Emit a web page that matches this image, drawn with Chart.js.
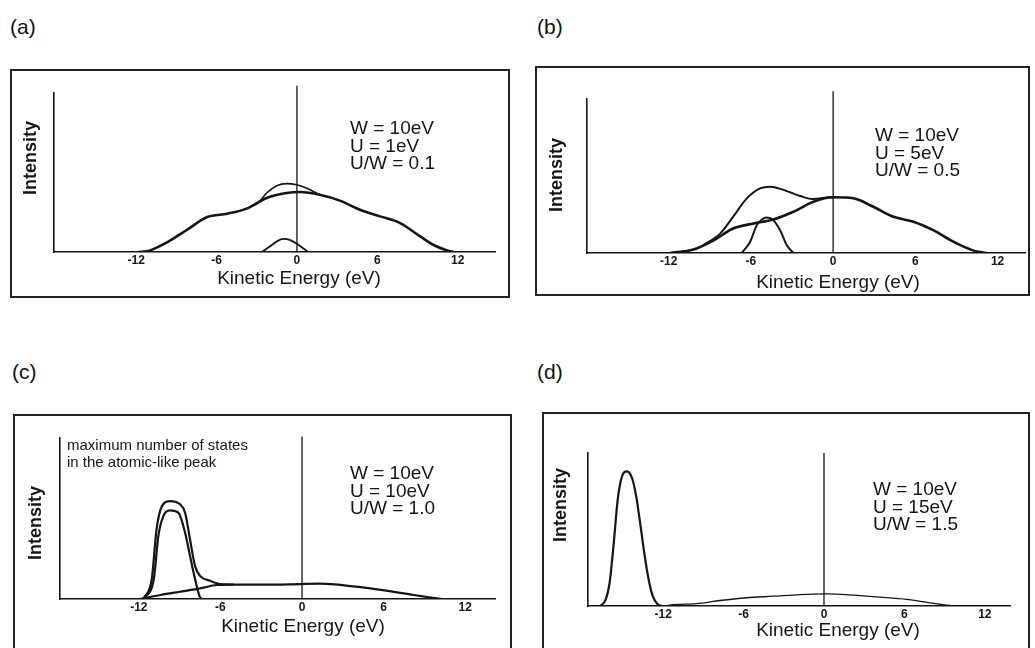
<!DOCTYPE html>
<html>
<head>
<meta charset="utf-8">
<script src="https://cdn.jsdelivr.net/npm/chart.js@4"></script>
<style>
  body { margin: 0; background: #fff; width: 1035px; height: 648px; overflow: hidden; position: relative;
         font-family: "Liberation Sans", Arial, sans-serif; }
  .lbl { position: absolute; font-size: 21px; line-height: 1; color: #111; }
  .box { position: absolute; border: 2px solid #222; box-sizing: border-box; pointer-events: none; }
  canvas { position: absolute; }
</style>
</head>
<body>
<script>
// ---- data (x in eV, y in arbitrary intensity, axis top = 10) ----
const tickValues = [-12, -6, 0, 6, 12];
const xTitle = "Kinetic Energy (eV)";
const yTitle = "Intensity";

// (a) U/W = 0.1
const aParams = ["W = 10eV", "U = 1eV", "U/W = 0.1"];
const aBandX = [-11.8, -11.2, -9.7, -8.2, -6.7, -5.2, -3.75, -2.26, -0.77, 0.22, 1.7, 3.2, 4.7, 6.2, 7.7, 9.2, 10.2, 11.2, 11.7];
const aBandY = [0, 0.04, 0.61, 1.4, 2.2, 2.41, 2.73, 3.4, 3.71, 3.77, 3.6, 3.23, 2.66, 2.24, 1.82, 0.98, 0.44, 0.1, 0];
const aTotalX = [-3.4, -2.9, -2.26, -1.5, -0.77, -0.02, 0.7, 1.7];
const aTotalY = [2.88, 3.08, 3.71, 4.17, 4.3, 4.23, 4.02, 3.6];
const aPeakX = [-2.6, -2.0, -1.5, -1.0, -0.5, 0.1, 0.84];
const aPeakY = [0, 0.36, 0.67, 0.82, 0.75, 0.46, 0];

// (b) U/W = 0.5
const bParams = ["W = 10eV", "U = 5eV", "U/W = 0.5"];
const bBandX = [-11.9, -10.2, -8.7, -7.3, -5.8, -4.36, -2.9, -1.44, 0, 1.48, 2.94, 4.4, 5.86, 7.3, 8.8, 10.2, 11.2];
const bBandY = [0, 0.22, 0.83, 1.59, 1.92, 2.18, 2.68, 3.33, 3.62, 3.55, 3.0, 2.35, 2.03, 1.48, 0.72, 0.17, 0];
const bTotalX = [-9.5, -8.25, -7.3, -6.3, -5.33, -4.6, -3.63, -2.4, -1.44, -0.46, 0.3];
const bTotalY = [0.5, 1.26, 2.35, 3.55, 4.2, 4.31, 4.1, 3.7, 3.5, 3.6, 3.62];
const bPeakX = [-6.67, -6.06, -5.57, -5.2, -4.84, -4.36, -3.87, -3.38, -2.9];
const bPeakY = [0, 0.72, 1.81, 2.18, 2.31, 2.13, 1.48, 0.5, 0];

// (c) U/W = 1.0
const cParams = ["W = 10eV", "U = 10eV", "U/W = 1.0"];
const cNote = ["maximum number of states", "in the atomic-like peak"];
const cBandX = [-11.9, -10.4, -9.0, -7.5, -6.27, -5.05, -2.6, -0.15, 1.32, 3.77, 6.2, 8.2, 9.9, 10.3];
const cBandY = [0, 0.25, 0.45, 0.66, 0.87, 0.89, 0.89, 0.93, 0.95, 0.78, 0.52, 0.25, 0.04, 0];
const cTotalX = [-11.67, -11.05, -10.7, -10.3, -9.7, -8.97, -8.6, -8.24, -7.87, -7.5, -6.76, -6.03, -5.05];
const cTotalY = [0, 1.24, 4.33, 5.77, 6.08, 5.88, 5.36, 3.71, 2.06, 1.44, 1.13, 0.93, 0.89];
const cPeakX = [-11.67, -10.9, -10.57, -10.2, -9.7, -9.1, -8.6, -8.24, -7.87, -7.5, -7.3];
const cPeakY = [0, 1.24, 3.9, 5.15, 5.5, 5.36, 4.12, 2.68, 1.24, 0.1, 0];

// (d) U/W = 1.5
const dParams = ["W = 10eV", "U = 15eV", "U/W = 1.5"];
const dPeakX = [-16.7, -16.3, -16.0, -15.7, -15.4, -15.1, -14.7, -14.3, -14.0, -13.7, -13.4, -13.1, -12.8, -12.4, -12.1];
const dPeakY = [0, 0.4, 1.5, 4.0, 6.9, 8.4, 8.8, 8.3, 7.1, 5.3, 3.4, 1.8, 0.7, 0.1, 0];
const dBandX = [-11.8, -11.5, -9.5, -7.76, -5.77, -3.78, -1.79, 0.2, 2.19, 4.18, 6.17, 7.9, 9.4, 9.9];
const dBandY = [0, 0.06, 0.15, 0.36, 0.54, 0.64, 0.75, 0.79, 0.71, 0.58, 0.43, 0.21, 0.04, 0];

// ---- layout (page pixels) ----
const INK = "#151515";
const FONT = '"Liberation Sans", Arial, sans-serif';
const H = 648;

const panels = [
  { tag: "(a)", tagPos: [10, 16], box: [10, 69, 500, 229], area: [54, 93, 495, 252], x: [-18.13, 14.78], zeroTop: 10.45,
    params: aParams, paramPos: [350, 134], titlePos: [299, 279], yTitlePos: [31, 158],
    lines: [[aBandX, aBandY, 2.6], [aTotalX, aTotalY, 1.6], [aPeakX, aPeakY, 1.8]] },
  { tag: "(b)", tagPos: [537, 16], box: [535, 66, 495, 230], area: [587, 99, 1025, 253], x: [-17.96, 14.0], zeroTop: 10.5,
    params: bParams, paramPos: [875, 141], titlePos: [838, 283], yTitlePos: [557, 175],
    lines: [[bBandX, bBandY, 2.6], [bTotalX, bTotalY, 2], [bPeakX, bPeakY, 2]] },
  { tag: "(c)", tagPos: [12, 361], box: [13, 414, 499, 240], area: [60, 438, 495, 599], x: [-17.8, 14.19], zeroTop: 10.1,
    params: cParams, paramPos: [350, 479], titlePos: [303, 627], yTitlePos: [36, 523],
    note: cNote, notePos: [67, 450],
    lines: [[cBandX, cBandY, 2.2], [cTotalX, cTotalY, 2.2], [cPeakX, cPeakY, 2.2]] },
  { tag: "(d)", tagPos: [537, 361], box: [542, 412, 488, 240], area: [588, 453, 1010, 606], x: [-17.61, 13.88], zeroTop: 10,
    params: dParams, paramPos: [873, 495], titlePos: [838, 631], yTitlePos: [561, 505],
    lines: [[dPeakX, dPeakY, 2.2], [dBandX, dBandY, 1.3]] }
];

// draws the free text of a panel (positions given in page pixels)
const panelText = {
  id: "panelText",
  afterDraw(chart, args, p) {
    const { ctx } = chart;
    const ox = p.box[0], oy = p.box[1];
    ctx.save();
    ctx.fillStyle = INK;
    ctx.textAlign = "left";
    ctx.textBaseline = "alphabetic";
    ctx.font = `19px ${FONT}`;
    p.params.forEach((t, i) => ctx.fillText(t, p.paramPos[0] - ox, p.paramPos[1] - oy + i * 17.5));

    ctx.textAlign = "center";
    ctx.textBaseline = "middle";
    ctx.fillText(xTitle, p.titlePos[0] - ox, p.titlePos[1] - oy);

    if (p.note) {
      ctx.textAlign = "left";
      ctx.textBaseline = "alphabetic";
      ctx.font = `15px ${FONT}`;
      p.note.forEach((t, i) => ctx.fillText(t, p.notePos[0] - ox, p.notePos[1] - oy + i * 16.5));
    }

    ctx.translate(p.yTitlePos[0] - ox, p.yTitlePos[1] - oy);
    ctx.rotate(-Math.PI / 2);
    ctx.textAlign = "center";
    ctx.textBaseline = "middle";
    ctx.font = `bold 18px ${FONT}`;
    ctx.fillText(yTitle, 0, 0);
    ctx.restore();
  }
};

function curve(xs, ys, width) {
  return {
    data: xs.map((x, i) => ({ x, y: ys[i] })),
    showLine: true,
    borderColor: INK,
    borderWidth: width,
    pointRadius: 0,
    cubicInterpolationMode: "monotone"
  };
}

function makePanel(p) {
  const [bl, bt, bw, bh] = p.box;
  const ch = Math.min(bh, H - bt);
  const [al, at, ar, ab] = p.area;

  const tag = document.createElement("div");
  tag.className = "lbl";
  tag.textContent = p.tag;
  tag.style.left = p.tagPos[0] + "px";
  tag.style.top = p.tagPos[1] + "px";
  document.body.appendChild(tag);

  const cv = document.createElement("canvas");
  cv.width = bw; cv.height = ch;
  cv.style.left = bl + "px"; cv.style.top = bt + "px";
  document.body.appendChild(cv);

  const frame = document.createElement("div");
  frame.className = "box";
  Object.assign(frame.style, { left: bl + "px", top: bt + "px", width: bw + "px", height: bh + "px" });
  document.body.appendChild(frame);

  const datasets = p.lines.map(([xs, ys, w]) => curve(xs, ys, w));
  datasets.push({
    data: [{ x: 0, y: 0 }, { x: 0, y: p.zeroTop }],
    showLine: true, borderColor: INK, borderWidth: 1.3, pointRadius: 0, tension: 0, clip: false
  });

  new Chart(cv, {
    type: "scatter",
    data: { datasets },
    options: {
      responsive: false,
      animation: false,
      devicePixelRatio: 1,
      layout: { padding: { left: 0, top: at - bt, right: bl + bw - ar, bottom: 0 } },
      plugins: { legend: { display: false }, tooltip: { enabled: false }, panelText: p },
      scales: {
        x: {
          type: "linear", min: p.x[0], max: p.x[1],
          grid: { display: false, drawTicks: false },
          border: { display: true, color: INK, width: 1.6 },
          ticks: { color: INK, padding: 1, maxRotation: 0, autoSkip: false,
                   font: { family: FONT, size: 12, weight: "bold" } },
          afterBuildTicks: s => { s.ticks = tickValues.map(v => ({ value: v })); },
          afterFit: s => { s.height = bt + ch - ab; }
        },
        y: {
          min: 0, max: 10,
          grid: { display: false, drawTicks: false },
          border: { display: true, color: INK, width: 1.6 },
          ticks: { display: false },
          afterFit: s => { s.width = al - bl; }
        }
      }
    },
    plugins: [panelText]
  });
}

panels.forEach(makePanel);
</script>
</body>
</html>
